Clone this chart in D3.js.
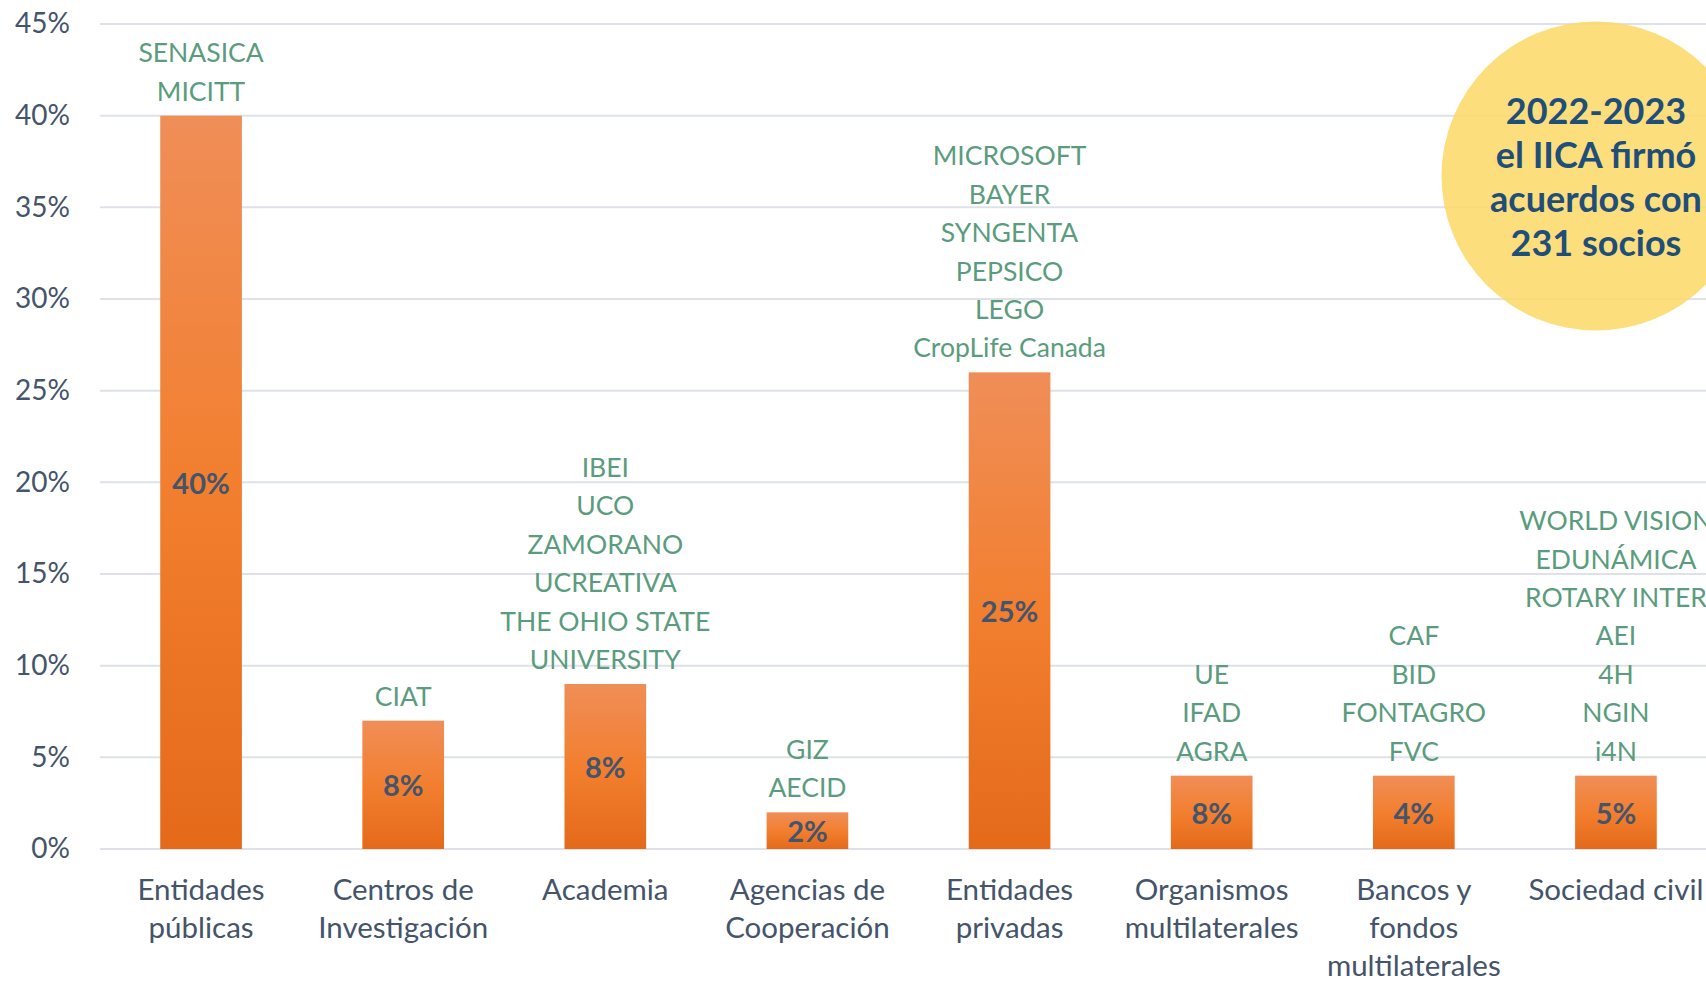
<!DOCTYPE html>
<html>
<head>
<meta charset="utf-8">
<script src="https://cdn.jsdelivr.net/npm/d3@7"></script>
<style>
  html, body { margin: 0; padding: 0; background: #ffffff; overflow: hidden; }
  svg { display: block; font-family: Lato, "Open Sans", sans-serif; }
</style>
</head>
<body>
<svg id="chart" width="1706" height="981"></svg>
<script>
// ---- data ----
const categories = [
  ["Entidades", "públicas"],
  ["Centros de", "Investigación"],
  ["Academia"],
  ["Agencias de", "Cooperación"],
  ["Entidades", "privadas"],
  ["Organismos", "multilaterales"],
  ["Bancos y", "fondos", "multilaterales"],
  ["Sociedad civil"]
];
const barValues = [0.40, 0.07, 0.09, 0.02, 0.26, 0.04, 0.04, 0.04];
const barLabels = ["40%", "8%", "8%", "2%", "25%", "8%", "4%", "5%"];
const partners = [
  ["SENASICA", "MICITT"],
  ["CIAT"],
  ["IBEI", "UCO", "ZAMORANO", "UCREATIVA", "THE OHIO STATE", "UNIVERSITY"],
  ["GIZ", "AECID"],
  ["MICROSOFT", "BAYER", "SYNGENTA", "PEPSICO", "LEGO", "CropLife Canada"],
  ["UE", "IFAD", "AGRA"],
  ["CAF", "BID", "FONTAGRO", "FVC"],
  ["WORLD VISION", "EDUNÁMICA", "ROTARY INTER", "AEI", "4H", "NGIN", "i4N"]
];
const yTicks = [0, 0.05, 0.10, 0.15, 0.20, 0.25, 0.30, 0.35, 0.40, 0.45];
const calloutLines = ["2022-2023", "el IICA firmó", "acuerdos con", "231 socios"];

// ---- layout ----
const M = { left: 100, right: 1717, top: 24, bottom: 849 };
const svg = d3.select("#chart");

const idx = categories.map((d, i) => i);
const x = d3.scaleBand().domain(idx).range([M.left, M.right]).paddingInner(0.596).paddingOuter(0.298);
const y = d3.scaleLinear().domain([0, 0.45]).range([M.bottom, M.top]);

const textColor = "#44546A";
const partnerColor = "#5A9C7D";

// gradient for bars
const defs = svg.append("defs");
const grad = defs.append("linearGradient").attr("id", "barGrad")
  .attr("x1", 0).attr("y1", 0).attr("x2", 0).attr("y2", 1);
grad.append("stop").attr("offset", "0%").attr("stop-color", "#F08E58");
grad.append("stop").attr("offset", "50%").attr("stop-color", "#F27F2F");
grad.append("stop").attr("offset", "100%").attr("stop-color", "#E46A1A");

// gridlines
svg.append("g").selectAll("line").data(yTicks).join("line")
  .attr("x1", M.left).attr("x2", M.right)
  .attr("y1", d => y(d)).attr("y2", d => y(d))
  .attr("stroke", "#DEE2E8").attr("stroke-width", 2);

// y axis labels
const yAxis = d3.axisLeft(y).tickValues(yTicks).tickFormat(d3.format(".0%")).tickSize(0).tickPadding(0);
const yg = svg.append("g").attr("transform", `translate(${M.left - 30},0)`).call(yAxis);
yg.select(".domain").remove();
yg.selectAll("text").attr("fill", textColor).style("font-size", "28px")
  .style("font-family", "Lato, 'Open Sans', sans-serif");

// bars
svg.append("g").selectAll("rect").data(barValues).join("rect")
  .attr("x", (d, i) => x(i)).attr("width", x.bandwidth())
  .attr("y", d => y(d)).attr("height", d => y(0) - y(d))
  .attr("fill", "url(#barGrad)");

// value labels inside bars
svg.append("g").selectAll("text").data(barLabels).join("text")
  .attr("x", (d, i) => x(i) + x.bandwidth() / 2)
  .attr("y", (d, i) => (y(barValues[i]) + y(0)) / 2)
  .attr("text-anchor", "middle").attr("dominant-baseline", "central")
  .attr("fill", textColor).style("font-size", "29px").style("font-weight", "bold")
  .text(d => d);

// partner labels above bars
const pLine = 38.4;
const pg = svg.append("g");
partners.forEach((lines, i) => {
  const cx = x(i) + x.bandwidth() / 2;
  const lastY = y(barValues[i]) - 25;
  const n = lines.length;
  pg.append("g").selectAll("text").data(lines).join("text")
    .attr("x", cx)
    .attr("y", (d, j) => lastY - (n - 1 - j) * pLine)
    .attr("text-anchor", "middle").attr("dominant-baseline", "central")
    .attr("fill", partnerColor).style("font-size", "26.5px")
    .text(d => d);
});

// category labels
const cg = svg.append("g");
categories.forEach((lines, i) => {
  const cx = x(i) + x.bandwidth() / 2;
  cg.append("g").selectAll("text").data(lines).join("text")
    .attr("x", cx)
    .attr("y", (d, j) => 888 + j * 38.4)
    .attr("text-anchor", "middle").attr("dominant-baseline", "central")
    .attr("fill", textColor).style("font-size", "29.5px")
    .text(d => d);
});

// callout circle
const cc = { x: 1596, y: 176, r: 154.5 };
svg.append("circle").attr("cx", cc.x).attr("cy", cc.y).attr("r", cc.r)
  .attr("fill", "#FDD866").attr("fill-opacity", 0.85);
svg.append("g").selectAll("text").data(calloutLines).join("text")
  .attr("x", cc.x)
  .attr("y", (d, j) => 110 + j * 44)
  .attr("text-anchor", "middle").attr("dominant-baseline", "central")
  .attr("fill", "#1F4E79").style("font-size", "36px").style("font-weight", "bold")
  .text(d => d);
</script>
</body>
</html>
